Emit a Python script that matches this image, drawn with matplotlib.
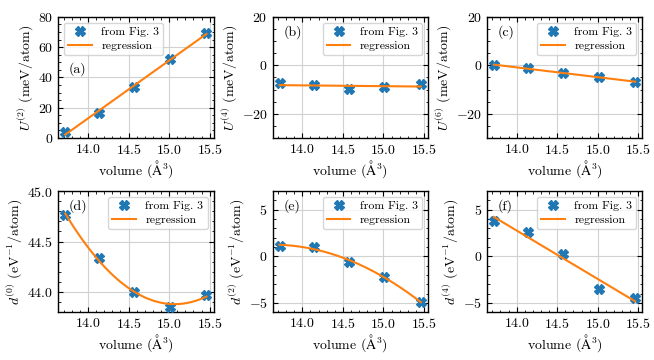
import numpy as np
import matplotlib
matplotlib.use('Agg')
import matplotlib.pyplot as plt
from matplotlib.ticker import AutoMinorLocator

# volumes
volume = [13.72, 14.14, 14.57, 15.01, 15.46]

u2 = [3.9, 16.3, 33.9, 52.2, 69.1]
u4 = [-7.5, -8.3, -9.7, -9.0, -7.9]
u6 = [0.0, -1.1, -3.1, -4.9, -6.9]
d0 = [44.76, 44.34, 44.00, 43.85, 43.97]
d2 = [1.14, 1.04, -0.64, -2.2, -4.93]
d4 = [3.82, 2.6, 0.25, -3.5, -4.46]

panels = [
    (u2, 1, r'$U^{(2)}$ (meV/atom)', (0, 80), '(a)'),
    (u4, 1, r'$U^{(4)}$ (meV/atom)', (-30, 20), '(b)'),
    (u6, 1, r'$U^{(6)}$ (meV/atom)', (-30, 20), '(c)'),
    (d0, 2, r'$d^{(0)}$ (eV$^{-1}$/atom)', (43.8, 45.0), '(d)'),
    (d2, 2, r'$d^{(2)}$ (eV$^{-1}$/atom)', (-6, 7), '(e)'),
    (d4, 1, r'$d^{(4)}$ (eV$^{-1}$/atom)', (-6, 7), '(f)'),
]

plt.rcParams['font.family'] = ['cmr10', 'DejaVu Serif']
plt.rcParams['mathtext.fontset'] = 'cm'
plt.rcParams['axes.formatter.use_mathtext'] = True
plt.rcParams['font.size'] = 10
plt.rcParams['axes.linewidth'] = 1.0
plt.rcParams['xtick.direction'] = 'in'
plt.rcParams['ytick.direction'] = 'in'
plt.rcParams['xtick.top'] = True
plt.rcParams['ytick.right'] = True
plt.rcParams['xtick.major.size'] = 3.5
plt.rcParams['ytick.major.size'] = 3.5
plt.rcParams['xtick.minor.size'] = 1.8
plt.rcParams['ytick.minor.size'] = 1.8

fig, axes = plt.subplots(2, 3, figsize=(6.54, 3.6), dpi=100)
fig.subplots_adjust(left=0.089, right=0.982, bottom=0.133, top=0.953,
                    wspace=0.38, hspace=0.44)

x = np.array(volume)
xs = np.linspace(x.min(), x.max(), 200)

for i, (ax, (y, deg, ylab, ylim, tag)) in enumerate(zip(axes.flat, panels)):
    coef = np.polyfit(x, y, deg)
    ax.plot(x, y, 'X', color='C0', ms=6.5, ls='none', label='from Fig. 3', zorder=3)
    ax.plot(xs, np.polyval(coef, xs), color='C1', lw=1.5, label='regression', zorder=4)
    ax.set_ylim(*ylim)
    ax.set_xticks([14.0, 14.5, 15.0, 15.5])
    ax.xaxis.set_minor_locator(AutoMinorLocator())
    ax.yaxis.set_minor_locator(AutoMinorLocator())
    ax.grid(True, color='0.82', lw=0.8)
    ax.set_axisbelow(True)
    ax.set_xlabel(r'volume ($\mathrm{\AA}^3$)', labelpad=1)
    ax.set_ylabel(ylab, labelpad=2)
    loc = 'upper left' if i == 0 else 'upper right'
    ax.legend(loc=loc, fontsize=8.5, labelspacing=0.3, borderpad=0.35)
    if i == 0:
        ax.text(0.07, 0.57, tag, transform=ax.transAxes, va='center')
    else:
        ax.text(0.07, 0.875, tag, transform=ax.transAxes, va='center')

plt.savefig('out.png', dpi=100)
